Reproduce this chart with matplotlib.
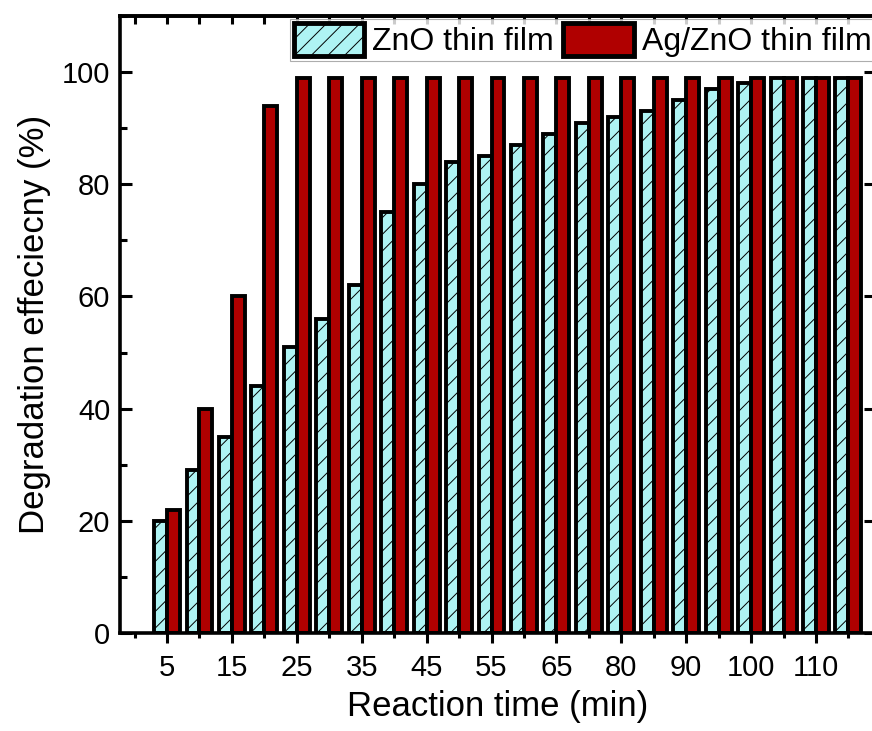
import numpy as np
import matplotlib
matplotlib.use("Agg")
import matplotlib.pyplot as plt

# Reaction times (min) and degradation efficiency (%)
times = [5, 10, 15, 20, 25, 30, 35, 40, 45, 50, 55, 60, 65, 70, 80, 85, 90, 95, 100, 105, 110, 115]
zno = [20, 29, 35, 44, 51, 56, 62, 75, 80, 84, 85, 87, 89, 91, 92, 93, 95, 97, 98, 99, 99, 99]
ag_zno = [22, 40, 60, 94, 99, 99, 99, 99, 99, 99, 99, 99, 99, 99, 99, 99, 99, 99, 99, 99, 99, 99]

plt.rcParams['font.family'] = ['Liberation Sans', 'DejaVu Sans']
plt.rcParams['hatch.linewidth'] = 0.7


def main():
    fig = plt.figure(figsize=(8.72, 7.31), dpi=100)
    ax = fig.add_axes([0.1376, 0.1341, 0.867, 0.844])

    x = np.arange(1, len(times) + 1)
    w = 0.4
    ax.bar(x - w / 2, zno, width=w, color='#aef3f3', edgecolor='black',
           linewidth=2.8, hatch='//', label='ZnO thin film', zorder=2)
    ax.bar(x + w / 2, ag_zno, width=w, color='#b00000', edgecolor='black',
           linewidth=2.8, label='Ag/ZnO thin film', zorder=2)

    ax.set_xlim(-0.45, 22.85)
    ax.set_ylim(0, 110)

    # x ticks: labelled every other category
    ax.set_xticks(x[::2])
    ax.set_xticklabels([str(t) for t in times[::2]])
    ax.set_xticks(np.arange(0, len(times) + 1, 2), minor=True)
    ax.tick_params(axis='x', which='major', direction='out', length=7, width=2.2,
                   labelsize=21, pad=8)
    ax.tick_params(axis='x', which='minor', direction='out', length=3.5, width=2.2)

    ax.set_yticks(np.arange(0, 101, 20))
    ax.set_yticks(np.arange(10, 111, 20), minor=True)
    ax.tick_params(axis='y', which='major', direction='in', length=8.5, width=2.2,
                   labelsize=21, pad=7, right=True)
    ax.tick_params(axis='y', which='minor', direction='in', length=5, width=2.2)

    top = ax.secondary_xaxis('top')
    top.set_xticks(np.arange(0, len(times) + 1))
    top.tick_params(direction='in', length=6, width=2.2, labeltop=False)
    top.spines['top'].set_linewidth(2.6)

    for s in ax.spines.values():
        s.set_linewidth(2.6)

    ax.set_xlabel('Reaction time (min)', fontsize=25, labelpad=6)
    ax.set_ylabel('Degradation effeciecny (%)', fontsize=25, labelpad=8)

    leg = fig.legend(loc='upper left', bbox_to_anchor=(290 / 872, 1 - 19 / 731),
                     ncol=2, fontsize=23, frameon=True, fancybox=False,
                     borderpad=0.12, borderaxespad=0, handlelength=2.2,
                     handleheight=1.2, handletextpad=0.25, columnspacing=0.3)
    leg.get_frame().set_edgecolor('#999999')
    leg.get_frame().set_linewidth(0.8)
    for h in leg.legend_handles:
        h.set_linewidth(3.5)

    fig.savefig('out.png', dpi=100)


if __name__ == "__main__":
    main()
